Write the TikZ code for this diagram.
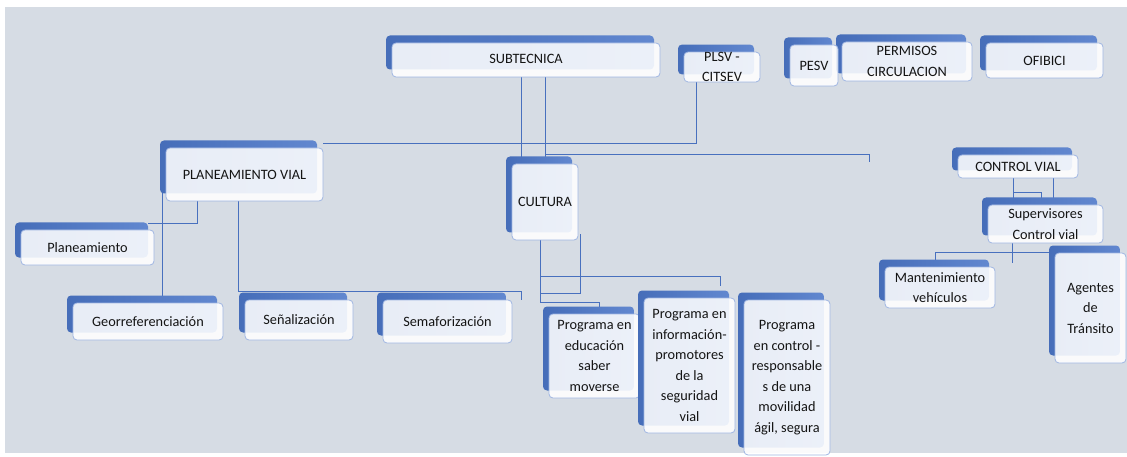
\documentclass[tikz,border=0pt]{standalone}
\usepackage{fontspec}
\setmainfont{Carlito}
\usetikzlibrary{calc,shadows}
\definecolor{bggray}{RGB}{214,220,228}
\definecolor{tabblue}{RGB}{76,119,201}
\definecolor{edgeblue}{RGB}{160,182,226}
\definecolor{linkblue}{RGB}{72,112,190}
\definecolor{txt}{RGB}{20,20,20}
\pgfdeclarelayer{bg}
\pgfdeclarelayer{links}
\pgfsetlayers{bg,links,main}
\begin{document}
\begin{tikzpicture}[x=1pt, y=-1pt,
	box/.style={draw=edgeblue, line width=0.8pt, fill=white, fill opacity=0.88, text opacity=1,
		text=txt, rounded corners=4pt, inner sep=0pt, align=center,
		font=\fontsize{14.3}{20.5}\selectfont,
		general shadow={left color=tabblue!92!black, right color=tabblue!88!white, draw=none, fill opacity=1, shadow xshift=-6pt, shadow yshift=7.5pt}},
	wh/.style 2 args={minimum width=#1pt, minimum height=#2pt},
	link/.style={draw=linkblue, line width=0.9pt}]
	\useasboundingbox (0,0) rectangle (1127,457);
	\begin{pgfonlayer}{bg}
		\fill[bggray] (5,7) rectangle (1127,453);
	\end{pgfonlayer}
	\node[box, wh={268}{34}] (sub) at (526,60) {\raisebox{3pt}{SUBTECNICA}};
	\node[box, wh={76}{28}] (plsv) at (722,67) {PLSV -\\CITSEV};
	\node[box, wh={130}{39}] (perm) at (907,61.5) {PERMISOS\\CIRCULACION};
	\node[box, wh={48}{41}] (pesv) at (814,65.5) {PESV};
	\node[box, wh={117}{35}] (ofi) at (1044.5,60.5) {OFIBICI};
	\node[box, wh={157}{53}] (planvial) at (244.5,174.5) {PLANEAMIENTO VIAL};
	\node[box, wh={66}{76}] (cult) at (545,202) {CULTURA};
	\node[box, wh={120}{23}] (ctrl) at (1018,166.5) {CONTROL VIAL};
	\node[box, wh={115}{38}] (sup) at (1045.5,224) {Supervisores\\Control vial};
	\node[box, wh={110}{41}] (mant) at (940,287.5) {Mantenimiento\\vehículos};
	\node[box, wh={71}{110}] (agen) at (1090.5,308) {Agentes\\de\\Tránsito};
	\node[box, wh={133}{35}] (plan) at (87.5,247.5) {Planeamiento};
	\node[box, wh={150}{37}] (geo) at (148,321.5) {Georreferenciación};
	\node[box, wh={108}{40}] (sen) at (299,320) {Señalización};
	\node[box, wh={129}{43}] (sem) at (447.5,321.5) {Semaforización};
	\node[box, wh={91}{84}] (edu) at (594.5,356) {Programa en\\educación\\saber\\moverse};
	\node[box, wh={91}{135}] (info) at (689.5,365.5) {Programa en\\información-\\promotores\\de la\\seguridad\\vial};
	\node[box, wh={86}{155}] (ctl) at (787,377.5) {Programa\\en control -\\responsable\\s de una\\movilidad\\ágil, segura};
	\coordinate (endA) at ($(cult.north)+(324,-2)$);
	\coordinate (endB) at ($(sem.north east)+(9,0)$);
	\coordinate (endC) at ($(sup.south west)+(25,20)$);
	\coordinate (geoA) at ($(planvial.west)+(-3,0)$);
	\begin{pgfonlayer}{links}
		\draw[link] ($(cult.north)+(-24,0)$) -- ($(sub.south)+(-5,0)$);
		\draw[link] (cult.north) -- (cult.north |- sub.south);
		\draw[link] ($(plsv.south west)+(13,0)$) |- ($(planvial.north east)+(0,-4)$);
		\draw[link] ($(cult.north)+(0,-9)$) -| (endA);
		\draw[link] ($(planvial.south west)+(32,0)$) |- ($(plan.north east)+(-6,-6)$);
		\draw[link] (geoA) -- (geoA |- geo.north);
		\draw[link] ($(planvial.south west)+(73,0)$) |- ($(endB)+(0,-8)$) -- (endB);
		\draw[link] ($(cult.south west)+(29,0)$) |- ($(edu.north)+(4.5,-11)$) -- ($(edu.north)+(4.5,0)$);
		\draw[link] ($(cult.south west)+(29,0)$) |- ($(info.north)+(30.5,-21)$) -- ($(info.north)+(30.5,-12)$);
		\draw[link] ($(cult.south east)+(2,-6)$) |- ($(cult.south west)+(29,53)$);
		\draw[link] ($(ctrl.south)+(-5,0)$) -- ($(sup.north)+(-32.5,0)$);
		\draw[link] ($(ctrl.south)+(35,0)$) -- ($(sup.north)+(7.5,0)$);
		\draw[link] ($(ctrl.south)+(-5,14)$) -| ($(sup.north)+(-4.5,0)$);
		\draw[link] ($(sup.south west)+(25,0)$) -- (endC);
		\draw[link] ($(mant.north)+(-5,0)$) |- (agen.north west);
	\end{pgfonlayer}
\end{tikzpicture}
\end{document}
